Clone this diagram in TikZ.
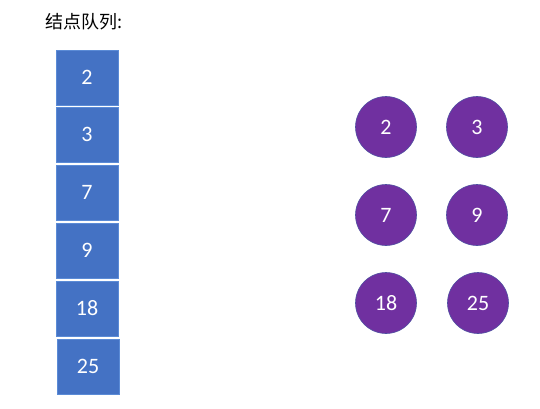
\documentclass[tikz,border=0pt]{standalone}
\usepackage{fontspec}
\setmainfont{Carlito}
\newfontfamily\cjk{Noto Sans CJK SC}
\definecolor{qblue}{HTML}{4472C4}
\definecolor{qedge}{HTML}{5B8BD6}
\definecolor{npurple}{HTML}{7030A0}
\definecolor{nedge}{HTML}{4F4FA0}
\begin{document}
\begin{tikzpicture}[x=1pt,y=-1pt,
  qbox/.style={draw=qedge,line width=0.6pt,fill=qblue,text=white,minimum width=62pt,minimum height=55pt,inner sep=0pt,font=\fontsize{22}{26}\selectfont},
  nodecirc/.style={circle,draw=nedge,line width=0.6pt,fill=npurple,text=white,minimum size=61pt,inner sep=0pt,font=\fontsize{22}{26}\selectfont},
  title/.style={anchor=west,inner sep=0pt,font=\cjk\fontsize{18}{22}\selectfont}]
\useasboundingbox (0,0) rectangle (540,409);
\node[title] (t) at (45,22) {结点队列:};
\node[qbox] (q1) at (87,77.5) {2};
\node[qbox] (q2) at (87,134.5) {3};
\node[qbox] (q3) at (87,192.5) {7};
\node[qbox] (q4) at (87,250.5) {9};
\node[qbox] (q5) at (87,308.5) {18};
\node[qbox] (q6) at (88,366.5) {25};
\node[nodecirc] (c1) at (386,127) {2};
\node[nodecirc] (c2) at (477,127) {3};
\node[nodecirc] (c3) at (386,215) {7};
\node[nodecirc] (c4) at (477,215) {9};
\node[nodecirc] (c5) at (386,303) {18};
\node[nodecirc] (c6) at (478,303) {25};
\end{tikzpicture}
\end{document}
